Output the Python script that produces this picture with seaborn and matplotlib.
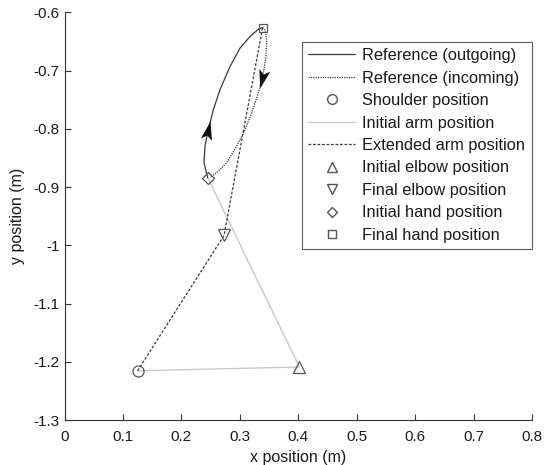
import numpy as np
import pandas as pd
import matplotlib
matplotlib.use("Agg")
import matplotlib.pyplot as plt
from matplotlib.path import Path
from matplotlib.markers import MarkerStyle
from matplotlib.transforms import Affine2D
from matplotlib.lines import Line2D
import seaborn as sns

# ---- data ----
shoulder = (0.125, -1.2155)
elbow_initial = (0.402, -1.209)
elbow_final = (0.273, -0.983)
hand_initial = (0.245, -0.884)
hand_final = (0.339, -0.6263)

out_x = [0.245, 0.2387, 0.2404, 0.2461, 0.2547, 0.2661, 0.2832, 0.3003, 0.3174, 0.3317, 0.3391]
out_y = [-0.884, -0.8584, -0.830, -0.8014, -0.7672, -0.733, -0.6931, -0.6616, -0.6417, -0.6291, -0.6263]
in_x = [0.3391, 0.3431, 0.346, 0.3448, 0.3402, 0.3378, 0.3317, 0.3203, 0.3089, 0.2946, 0.2775, 0.2604, 0.249]
in_y = [-0.6263, -0.6303, -0.6474, -0.676, -0.7044, -0.714, -0.7386, -0.7728, -0.8014, -0.830, -0.8584, -0.8755, -0.884]
ARROW_OUT = 3
ARROW_IN = 5

xticks = [0, 0.1, 0.2, 0.3, 0.4, 0.5, 0.6, 0.7, 0.8]
xticklabels = ["0", "0.1", "0.2", "0.3", "0.4", "0.5", "0.6", "0.7", "0.8"]
yticks = [-1.3, -1.2, -1.1, -1.0, -0.9, -0.8, -0.7, -0.6]
yticklabels = ["-1.3", "-1.2", "-1.1", "-1", "-0.9", "-0.8", "-0.7", "-0.6"]

labels = ["Reference (outgoing)", "Reference (incoming)", "Shoulder position",
          "Initial arm position", "Extended arm position", "Initial elbow position",
          "Final elbow position", "Initial hand position", "Final hand position"]

# ---- style ----
sns.set_style("white")
plt.rcParams["font.family"] = ["Liberation Sans", "DejaVu Sans"]
plt.rcParams["axes.unicode_minus"] = False

fig = plt.figure(figsize=(5.46, 4.65), dpi=100)
ax = fig.add_axes([64.5 / 546, 1 - 420 / 465, (532 - 64.5) / 546, (420 - 12.3) / 465])

DARK = "#3a3a3a"
LIGHT = "#c8c8c8"
MK = "#555555"
LS_IN = (0, (1.0, 0.9))
LS_EXT = (0, (2.2, 1.4))

init_arm = pd.DataFrame({"x": [shoulder[0], elbow_initial[0], hand_initial[0]],
                         "y": [shoulder[1], elbow_initial[1], hand_initial[1]]})
ext_arm = pd.DataFrame({"x": [shoulder[0], elbow_final[0], hand_final[0]],
                        "y": [shoulder[1], elbow_final[1], hand_final[1]]})
out_df = pd.DataFrame({"x": out_x, "y": out_y})
in_df = pd.DataFrame({"x": in_x, "y": in_y})

sns.lineplot(data=init_arm, x="x", y="y", sort=False, estimator=None, ax=ax,
             color=LIGHT, lw=1.0)
sns.lineplot(data=ext_arm, x="x", y="y", sort=False, estimator=None, ax=ax,
             color=DARK, lw=0.9, linestyle=LS_EXT)
sns.lineplot(data=out_df, x="x", y="y", sort=False, estimator=None, ax=ax,
             color=DARK, lw=0.9)
sns.lineplot(data=in_df, x="x", y="y", sort=False, estimator=None, ax=ax,
             color=DARK, lw=0.9, linestyle=LS_IN)

# arrowheads
arrow_path = Path([(1.0, 0.0), (-1.0, 0.6), (-0.55, 0.0), (-1.0, -0.6), (1.0, 0.0)],
                  [Path.MOVETO, Path.LINETO, Path.LINETO, Path.LINETO, Path.CLOSEPOLY])

def add_arrow(xs, ys, i):
    dx = xs[i + 1] - xs[i - 1]
    dy = ys[i + 1] - ys[i - 1]
    ang = np.degrees(np.arctan2(dy, dx))
    m = MarkerStyle(arrow_path, transform=Affine2D().rotate_deg(ang))
    ax.plot([xs[i]], [ys[i]], marker=m, markersize=13.5, color="#111111",
            markeredgewidth=0, linestyle="none")

add_arrow(out_x, out_y, ARROW_OUT)
add_arrow(in_x, in_y, ARROW_IN)

# markers
marker_pts = [(shoulder, "o"), (elbow_initial, "^"), (elbow_final, "v"),
              (hand_initial, "D"), (hand_final, "s")]
msizes = {"o": 8, "^": 8, "v": 8, "D": 6, "s": 6}
for (pt, mk) in marker_pts:
    ax.plot([pt[0]], [pt[1]], marker=mk, markersize=msizes[mk], markerfacecolor="none",
            markeredgecolor=MK, markeredgewidth=0.9, linestyle="none")

ax.set_xlim(0, 0.8)
ax.set_ylim(-1.3, -0.6)
ax.set_xticks(xticks)
ax.set_xticklabels(xticklabels)
ax.set_yticks(yticks)
ax.set_yticklabels(yticklabels)
ax.tick_params(bottom=True, left=True, top=False, right=False, direction="in",
               length=4, width=0.8, color="#333333",
               labelsize=11, labelcolor="#1a1a1a")
ax.tick_params(axis="x", pad=7.5)
ax.tick_params(axis="y", pad=3.5)
for s in ["top", "right"]:
    ax.spines[s].set_visible(False)
for s in ["left", "bottom"]:
    ax.spines[s].set_color("#333333")
    ax.spines[s].set_linewidth(0.8)
ax.set_xlabel("x position (m)", fontsize=11.5, color="#1a1a1a", labelpad=4)
ax.set_ylabel("y position (m)", fontsize=11.5, color="#1a1a1a", labelpad=6)

handles = [
    Line2D([], [], color=DARK, lw=0.9),
    Line2D([], [], color=DARK, lw=0.9, linestyle=LS_IN),
    Line2D([], [], marker="o", markersize=7, markerfacecolor="none", markeredgecolor=MK, linestyle="none"),
    Line2D([], [], color=LIGHT, lw=1.0),
    Line2D([], [], color=DARK, lw=0.9, linestyle=LS_EXT),
    Line2D([], [], marker="^", markersize=7, markerfacecolor="none", markeredgecolor=MK, linestyle="none"),
    Line2D([], [], marker="v", markersize=7, markerfacecolor="none", markeredgecolor=MK, linestyle="none"),
    Line2D([], [], marker="D", markersize=5.5, markerfacecolor="none", markeredgecolor=MK, linestyle="none"),
    Line2D([], [], marker="s", markersize=5.5, markerfacecolor="none", markeredgecolor=MK, linestyle="none"),
]
leg = ax.legend(handles, labels, loc="upper right", bbox_to_anchor=(0.9994, 0.928),
                borderaxespad=0, fontsize=11.8, frameon=True, fancybox=False,
                handlelength=2.87, handletextpad=0.41, labelspacing=0.455,
                borderpad=0.4, edgecolor="#333333")
leg.get_frame().set_linewidth(0.8)
for t in leg.get_texts():
    t.set_color("#1a1a1a")

fig.savefig("out.png", dpi=100)
